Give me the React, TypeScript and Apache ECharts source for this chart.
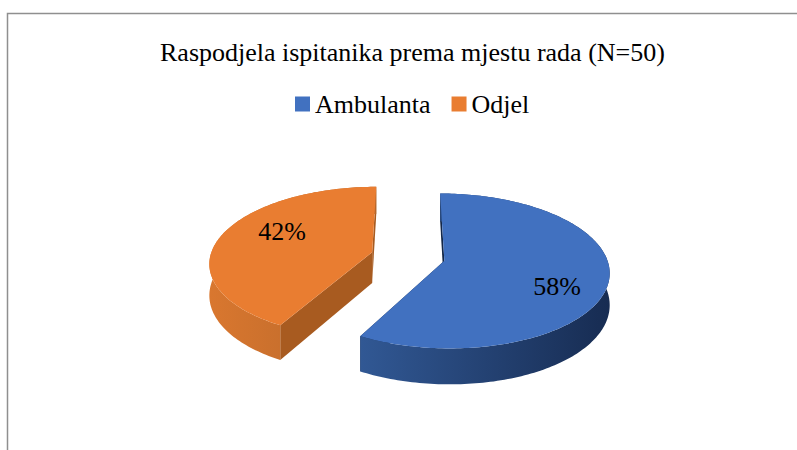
import React, { useEffect, useRef } from "react";
import * as echarts from "echarts";

const titleText = "Raspodjela ispitanika prema mjestu rada (N=50)";
const categories = ["Ambulanta", "Odjel"];
const values = [58, 42];
const topColors = ["#4171c0", "#e97d31"];
const wallLeft = ["#315894", "#d9772f"];
const wallRight = ["#172c52", "#b5662a"];
const faceColors = ["#142849", "#a85b20"];
const labelAnchors = [[557, 286], [282, 231]];

const SERIF = '"Liberation Serif", "Times New Roman", serif';
const view = { cx: 408, cy: 256.5, a: 162, b: 75, p: 0.13, depth: 31, explode: 0.23 };

function project(u: number, v: number, drop: number) {
  const w = 1 + view.p * v;
  return [view.cx + (view.a * u) / w, view.cy - (view.b * v) / w + drop / w];
}

function slice(index: number, value: number) {
  const total = values.reduce((s, x) => s + x, 0);
  const before = values.slice(0, index).reduce((s, x) => s + x, 0);
  const t0 = (before / total) * Math.PI * 2;
  const t1 = t0 + (value / total) * Math.PI * 2;
  const mid = (t0 + t1) / 2;
  const ou = Math.sin(mid) * view.explode;
  const ov = Math.cos(mid) * view.explode;
  const rim: number[][] = [];
  const n = Math.max(8, Math.round((t1 - t0) / 0.02));
  for (let i = 0; i <= n; i++) {
    const t = t0 + ((t1 - t0) * i) / n;
    rim.push([ou + Math.sin(t), ov + Math.cos(t)]);
  }
  const apex = [ou, ov];
  const at = (p: number[], d: number) => project(p[0], p[1], d);
  const face = (p: number[]) => [at(apex, 0), at(p, 0), at(p, view.depth), at(apex, view.depth)];
  const wall = [...rim.map((p) => at(p, 0)), ...rim.slice().reverse().map((p) => at(p, view.depth))];
  const top = [at(apex, 0), ...rim.map((p) => at(p, 0))];
  return { wall, top, faceA: face(rim[0]), faceB: face(rim[rim.length - 1]) };
}

function renderSlice(index: number) {
  return (_params: any, api: any) => {
    const value = api.value(0);
    const s = slice(index, value);
    const poly = (points: number[][], fill: any) => ({
      type: "polygon",
      shape: { points },
      style: { fill, stroke: null },
    });
    return {
      type: "group",
      children: [
        poly(s.faceA, faceColors[index]),
        poly(s.faceB, faceColors[index]),
        poly(
          s.wall,
          new echarts.graphic.LinearGradient(0, 0, 1, 0, [
            { offset: 0, color: wallLeft[index] },
            { offset: 1, color: wallRight[index] },
          ]),
        ),
        poly(s.top, topColors[index]),
        {
          type: "text",
          x: labelAnchors[index][0],
          y: labelAnchors[index][1],
          style: {
            text: `${value}%`,
            fontFamily: SERIF,
            fontSize: 26,
            fill: "#000",
            align: "center",
            verticalAlign: "middle",
          },
        },
      ],
    };
  };
}

export default function App() {
  const ref = useRef<HTMLDivElement>(null);
  useEffect(() => {
    const chart = echarts.init(ref.current!, null, { renderer: "svg" });
    chart.setOption({
      animation: false,
      backgroundColor: "#fff",
      title: {
        text: titleText,
        left: 155,
        top: 34,
        textStyle: { fontFamily: SERIF, fontSize: 26, fontWeight: "normal", color: "#000" },
      },
      legend: {
        left: 290,
        top: 86,
        data: categories,
        icon: "rect",
        itemWidth: 15,
        itemHeight: 15,
        itemGap: 21,
        textStyle: { fontFamily: SERIF, fontSize: 26, color: "#000" },
        selectedMode: false,
      },
      graphic: [
        {
          type: "polyline",
          shape: { points: [[7.5, 450], [7.5, 13.5], [797, 13.5]] },
          style: { stroke: "#8f8f8f", lineWidth: 1.5, fill: "none" },
        },
      ],
      series: categories.map((name, i) => ({
        type: "custom",
        name,
        coordinateSystem: "none",
        silent: true,
        itemStyle: { color: topColors[i] },
        data: [{ name, value: [values[i]] }],
        renderItem: renderSlice(i),
      })),
    });
    return () => chart.dispose();
  }, []);
  return <div ref={ref} style={{ position: "fixed", left: 0, top: 0, width: 797, height: 450 }} />;
}
